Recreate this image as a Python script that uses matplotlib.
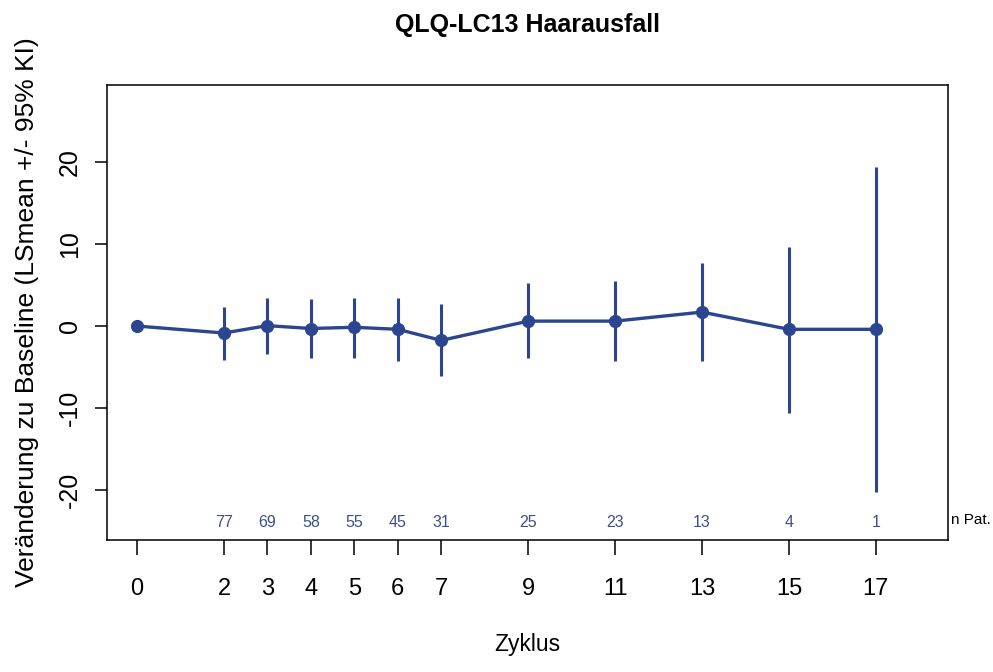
import matplotlib
matplotlib.use("Agg")
import matplotlib.pyplot as plt

# data
zyklus = [0, 2, 3, 4, 5, 6, 7, 9, 11, 13, 15, 17]
lsmean = [0.0, -0.85, 0.05, -0.3, -0.15, -0.4, -1.75, 0.6, 0.6, 1.7, -0.4, -0.4]
ci_low = [0.0, -4.1, -3.4, -3.9, -3.9, -4.3, -6.1, -3.9, -4.3, -4.3, -10.6, -20.2]
ci_high = [0.0, 2.35, 3.4, 3.3, 3.45, 3.4, 2.7, 5.2, 5.5, 7.7, 9.7, 19.4]
n_pat = ["", "77", "69", "58", "55", "45", "31", "25", "23", "13", "4", "1"]

plt.rcParams['font.family'] = ['Liberation Sans', 'DejaVu Sans']
plt.rcParams['axes.unicode_minus'] = False

line_col = '#2b4590'
n_col = '#3d4f8c'

fig = plt.figure(figsize=(9.93, 6.72), dpi=100)
ax = fig.add_axes([0.1078, 0.1964, 0.8469, 0.6771])

# confidence intervals
for x, lo, hi in zip(zyklus[1:], ci_low[1:], ci_high[1:]):
    ax.plot([x, x], [lo, hi], color=line_col, lw=2.2, solid_capstyle='butt')

ax.plot(zyklus, lsmean, color=line_col, lw=2.4, marker='o', markersize=8.5)

# patient counts
for x, n in zip(zyklus, n_pat):
    if n:
        ax.text(x, -24.0, n, color=n_col, fontsize=11.5, ha='center', va='center')
ax.text(1.004, 0.043, 'n Pat.', transform=ax.transAxes, fontsize=11,
        ha='left', va='center', color='black')

ax.set_xlim(-0.69, 18.66)
ax.set_ylim(-26.1, 29.4)
ax.set_xticks(zyklus)
ax.set_yticks([-20, -10, 0, 10, 20])
ax.tick_params(axis='x', length=11, width=1.1, pad=16, labelsize=17, direction='out')
ax.tick_params(axis='y', length=9, width=1.1, pad=9, labelsize=18, labelrotation=90)
for lbl in ax.get_yticklabels():
    lbl.set_va('center')
for s in ax.spines.values():
    s.set_linewidth(1.1)

ax.set_title('QLQ-LC13 Haarausfall', fontsize=18, fontweight='bold', pad=38)
ax.set_xlabel('Zyklus', fontsize=16.5, labelpad=24)
ax.set_ylabel('Veränderung zu Baseline (LSmean +/- 95% KI)', fontsize=19, labelpad=14)

fig.savefig('out.png', dpi=100)
